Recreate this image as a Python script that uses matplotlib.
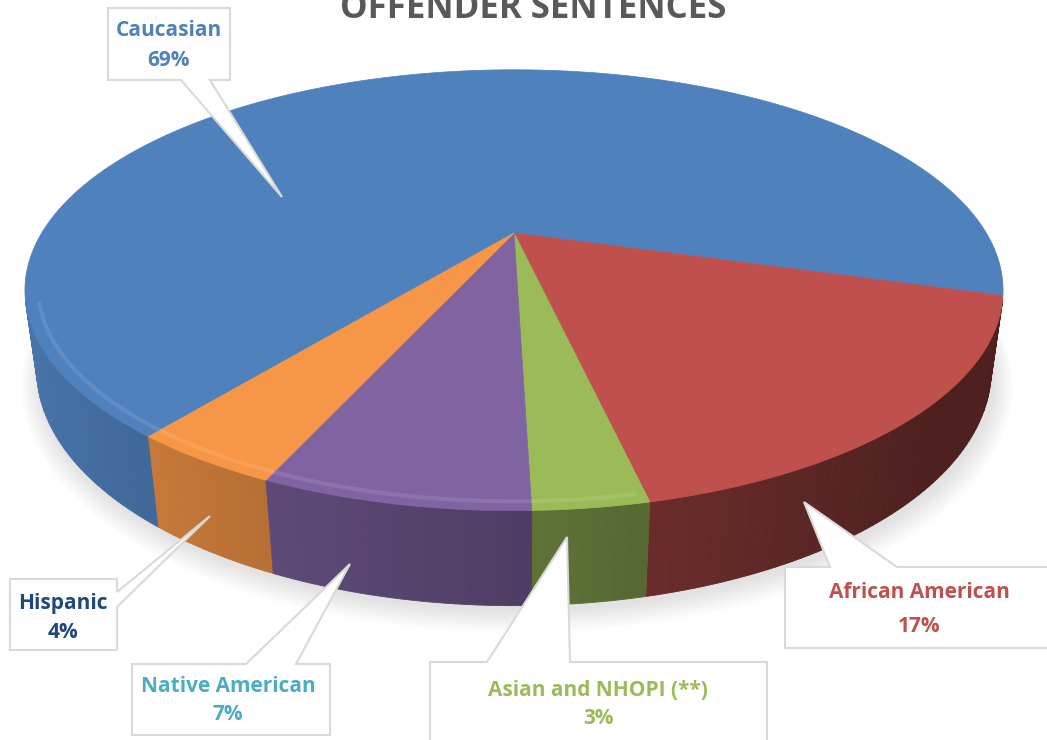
import numpy as np
import matplotlib.pyplot as plt
import matplotlib.colors as mcolors
from matplotlib.patches import Polygon

# data
labels = ['Caucasian', 'African American', 'Asian and NHOPI (**)', 'Native American', 'Hispanic']
shares = [69, 17, 3, 7, 4]
top_colors = ['#4F81BD', '#C0504D', '#9BBB59', '#8064A2', '#F79646']
text_colors = ['#4F81BD', '#C0504D', '#9BBB59', '#4BACC6', '#1F497D']
title = 'OFFENDER SENTENCES'

# 3d pie view (pixel space)
CX, CY = 514, 233
FOC = 1639.0
DIST = 3.47
PHI = np.radians(25.8)
THICK = 0.186
START = 232.0
cp, sp = np.cos(PHI), np.sin(PHI)


def project(r, th, z):
    u = r * np.cos(th)
    v = r * np.sin(th)
    depth = DIST + v * cp - z * sp
    return CX + FOC * u / depth, CY - FOC * (v * sp + z * cp) / depth


def shade(col, th):
    f = 0.62 + 0.30 * (-np.cos(th))
    f = min(max(f, 0.40), 0.95)
    rgb = np.array(mcolors.to_rgb(col))
    return tuple(rgb * f)


def lighten(col, amt):
    rgb = np.array(mcolors.to_rgb(col))
    return tuple(rgb + (1 - rgb) * amt)


fig = plt.figure(figsize=(10.47, 7.4), dpi=100)
ax = fig.add_axes([0, 0, 1, 1])
ax.set_xlim(0, 1047)
ax.set_ylim(740, 0)
ax.axis('off')

fracs = np.array(shares, dtype=float) / sum(shares)
edges = np.radians(START - np.concatenate([[0], np.cumsum(fracs)]) * 360)

# soft shadow under the pie
tt = np.linspace(0, 2 * np.pi, 300)
for k in range(10):
    sx, sy = project(1.0 + 0.004 * k, tt, -THICK)
    ax.add_patch(Polygon(np.column_stack([sx + 3, sy + 5 + 0.8 * k]), closed=True,
                         facecolor='#909090', edgecolor='none', alpha=0.025, zorder=1))

# side walls, far segments first
segs = []
for i in range(len(shares)):
    th = np.linspace(edges[i], edges[i + 1], max(4, int(abs(edges[i + 1] - edges[i]) * 60)))
    for j in range(len(th) - 1):
        m = 0.5 * (th[j] + th[j + 1])
        if -1 - DIST * cp * np.sin(m) < -0.05:
            continue
        segs.append((np.sin(m), th[j], th[j + 1], i, m))
segs.sort(key=lambda s: -s[0])
for _, t0, t1, i, m in segs:
    x0, y0 = project(1, t0, 0)
    x1, y1 = project(1, t1, 0)
    x2, y2 = project(1, t1, -THICK)
    x3, y3 = project(1, t0, -THICK)
    c = shade(top_colors[i], m)
    ax.add_patch(Polygon([(x0, y0), (x1, y1), (x2, y2), (x3, y3)], closed=True,
                         facecolor=c, edgecolor=c, linewidth=0.6, zorder=2))

# top faces
for i in range(len(shares)):
    th = np.linspace(edges[i], edges[i + 1], 200)
    x, y = project(1, th, 0)
    pts = np.vstack([[CX, CY], np.column_stack([x, y])])
    ax.add_patch(Polygon(pts, closed=True, facecolor=top_colors[i],
                         edgecolor=top_colors[i], linewidth=0.5, zorder=3))
    # bevel highlight near the front rim (left-front only, like the light source)
    hx, hy = project(0.975, th, 0)
    keep = (np.sin(th) < -0.3) & (np.cos(th) < 0.2)
    hx = np.where(keep, hx, np.nan)
    hy = np.where(keep, hy, np.nan)
    ax.plot(hx, hy, color=lighten(top_colors[i], 0.2), lw=3, alpha=0.5,
            solid_capstyle='butt', zorder=4)

# callouts: box (x0, y0, x1, y1), wedge side, wedge base, tip
boxes = [(108, 8, 230, 80), (785, 567, 1060, 648), (430, 662, 767, 760),
         (132, 664, 330, 735), (10, 579, 117, 650)]
wedges = [('bottom', 181, 210), ('top', 830, 897), ('top', 487, 570),
          ('top', 246, 296), ('right', 592, 607)]
tips = [(282, 197), (804, 502), (567, 537), (350, 564), (210, 516)]


def callout_pts(box, wedge, tip):
    x0, y0, x1, y1 = box
    side, b0, b1 = wedge
    pts = [(x0, y0)]
    if side == 'top':
        pts += [(b0, y0), tip, (b1, y0)]
    pts.append((x1, y0))
    if side == 'right':
        pts += [(x1, b0), tip, (x1, b1)]
    pts.append((x1, y1))
    if side == 'bottom':
        pts += [(b1, y1), tip, (b0, y1)]
    pts.append((x0, y1))
    if side == 'left':
        pts += [(x0, b1), tip, (x0, b0)]
    return pts


text_pos = [(169, 30, 60), (919, 593, 627), (598, 690, 718), (228, 686, 714), (63, 604, 632)]
for i in range(len(labels)):
    ax.add_patch(Polygon(callout_pts(boxes[i], wedges[i], tips[i]), closed=True,
                         facecolor='white', edgecolor='#D9D9D9', linewidth=1.5, zorder=6))
    tx, ty1, ty2 = text_pos[i]
    ax.text(tx, ty1, labels[i], ha='center', va='center', fontsize=15, fontweight='bold',
            color=text_colors[i], family='Open Sans', zorder=7)
    ax.text(tx, ty2, f'{shares[i]}%', ha='center', va='center', fontsize=15, fontweight='bold',
            color=text_colors[i], family='Open Sans', zorder=7)

# title sits partly above the top edge, as in the source
ax.text(533, 18, title, ha='center', va='baseline', fontsize=25, fontweight='bold',
        color='#595959', family='Open Sans', zorder=7)

fig.savefig('out.png', dpi=100)
